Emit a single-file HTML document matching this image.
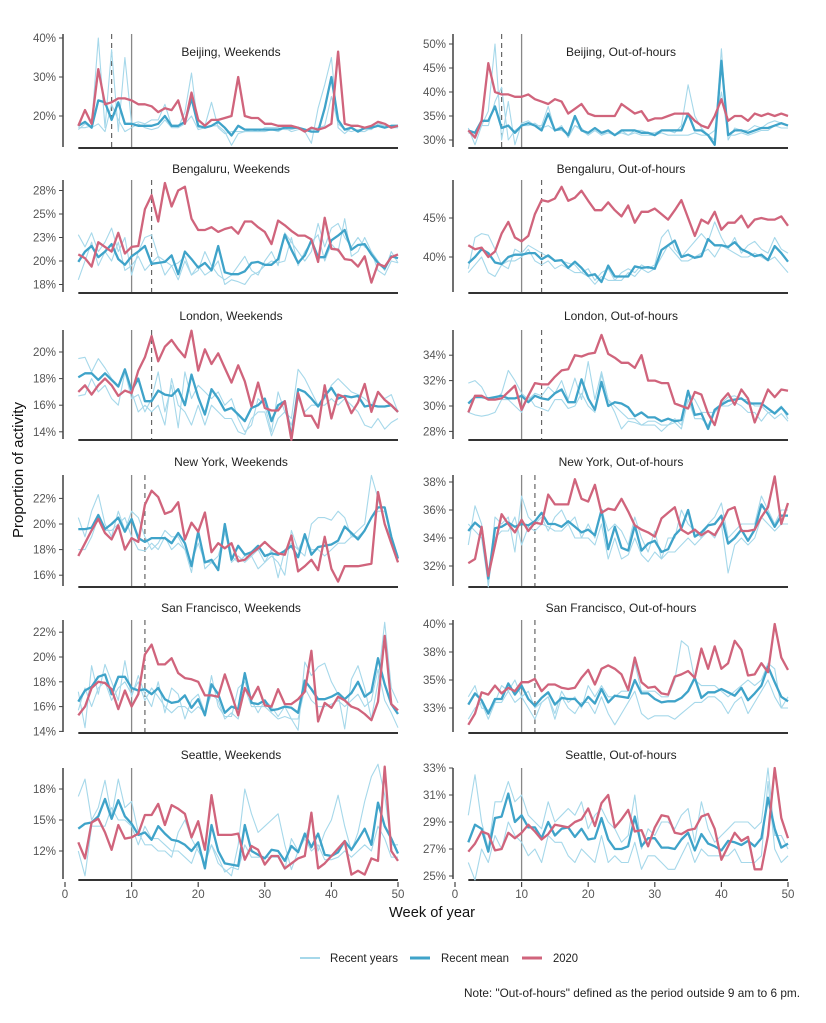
<!DOCTYPE html>
<html><head><meta charset="utf-8">
<style>
html,body{margin:0;padding:0;background:#fff;}
body{width:826px;height:1018px;overflow:hidden;font-family:"Liberation Sans",sans-serif;}
svg text{font-family:"Liberation Sans",sans-serif;}
</style></head>
<body>
<svg id="chart" width="826" height="1018" viewBox="0 0 826 1018" xmlns="http://www.w3.org/2000/svg">
<text x="23" y="470" transform="rotate(-90 23 470)" text-anchor="middle" font-size="15" fill="#111">Proportion of activity</text>
<text x="432" y="917" text-anchor="middle" font-size="15" fill="#111" textLength="86" lengthAdjust="spacingAndGlyphs">Week of year</text>
<g>
<line x1="300" y1="958" x2="320" y2="958" stroke="#a6d8ea" stroke-width="2"/>
<text x="330" y="962" font-size="12" fill="#222" textLength="68" lengthAdjust="spacingAndGlyphs">Recent years</text>
<line x1="410" y1="958" x2="430" y2="958" stroke="#3fa3c9" stroke-width="3"/>
<text x="441" y="962" font-size="12" fill="#222" textLength="68" lengthAdjust="spacingAndGlyphs">Recent mean</text>
<line x1="522" y1="958" x2="542" y2="958" stroke="#d0647c" stroke-width="3"/>
<text x="553" y="962" font-size="12" fill="#222" textLength="25" lengthAdjust="spacingAndGlyphs">2020</text>
</g>
<text x="800" y="997" text-anchor="end" font-size="12" fill="#222" textLength="336" lengthAdjust="spacingAndGlyphs">Note: "Out-of-hours" defined as the period outside 9 am to 6 pm.</text>
</svg>
<script>
// ---- data (weeks 2..50) ----
const panelTitles=["Beijing, Weekends","Beijing, Out-of-hours","Bengaluru, Weekends","Bengaluru, Out-of-hours","London, Weekends","London, Out-of-hours","New York, Weekends","New York, Out-of-hours","San Francisco, Weekends","San Francisco, Out-of-hours","Seattle, Weekends","Seattle, Out-of-hours"];
const xTicks=[0,10,20,30,40,50];
const lockdownWeek=[10,10,10,10,10,10,10,10,10,10,10,10];
const policyWeek=[7,7,13,13,13,13,12,12,12,12,null,null];
const yTicks=[[20,30,40],[30,35,40,45,50],[17.5,20,22.5,25,27.5],[40,45],[14,16,18,20],[28,30,32,34],[16,18,20,22],[32,34,36,38],[14,16,18,20,22],[32.5,35,37.5,40],[12.5,15,17.5],[25,27,29,31,33]];
const yTickLabels=[["20%","30%","40%"],["30%","35%","40%","45%","50%"],["18%","20%","23%","25%","28%"],["40%","45%"],["14%","16%","18%","20%"],["28%","30%","32%","34%"],["16%","18%","20%","22%"],["32%","34%","36%","38%"],["14%","16%","18%","20%","22%"],["33%","35%","38%","40%"],["12%","15%","18%"],["25%","27%","29%","31%","33%"]];

const s2020=[
[17.5,21.5,18,32,23,23.5,24.5, 24.5,24,23,23,22.5,21,22, 21.5,24,18,26,19,17.5,19, 19,19.5,20,30,20,19.5,19.5, 18,18,17.5,17.5,17.5,17,16, 17,16.5,17,18,36.5,18,17.5, 17.5,17,17.5,18.5,18,17,17.5],
[32,30.5,34,46,40,39.5,39.5, 39,39,39.5,38.5,38,37.5,38.5, 38,35.5,36.5,37.5,35.5,35,35, 35,35,37.5,36.5,35.5,36,34, 34.5,34.5,35,35.5,35.5,35.5,34, 33,32.5,35,38.5,34,35,35, 34,35.5,35,35.5,35,35.5,35],
[20.7,20.3,19.4,22,21.5,21,23, 20.8,21.5,21.6,25.5,27,24.2,28.3, 25.8,27.5,27.9,24.5,23.3,23.3,23.6, 23.1,23.4,23.6,22.9,24.2,24.2,23.6, 23.1,21.8,24.3,23.8,23.2,22.7,22.7, 22.3,19.9,24.6,21.3,21.2,20.2,20.1, 19.4,20.5,17.7,19.7,19.4,20.4,20.7],
[41.5,41,41.2,40,40.7,43,44.5, 42.5,42,42.7,45.5,47.3,47.1,47.5, 49,47.2,47.6,48.5,47.2,46,46, 47,46,45.2,46.6,44.4,45.8,45.8, 46.2,45.5,44.8,46,47.3,45,42.7, 44.8,44.3,45.8,43.5,44.4,44.4,45.3, 43.8,44.8,45,44.8,44.8,45.2,44],
[17,17.5,16.8,17.5,18,17.5,16.7, 17.1,16.9,18.6,19.6,21.2,19.3,20.4, 20.9,20.2,19.6,21.6,18.6,20.2,19.1, 19.9,18.8,17.7,19,17.8,15.9,17.7, 15.8,15.6,15.6,16.3,13.4,16.9,15.2, 15.2,14.3,17.5,15,16.8,16.6,15.4, 16.2,17.6,15.5,17,16.4,16,15.5],
[29.5,30.8,30.8,30.5,30.5,30.6,31.1, 31.6,29.7,30.8,31.8,31.7,31.7,32.3, 32.8,32.9,34,33.9,34.1,34.2,35.6, 34.1,33.8,33.4,33.4,33,34,32, 32,31.8,31.8,30.2,30,29.8,31.1, 30.9,29.4,28.5,30.4,31,30.1,31.3, 30.6,28.7,30,31.3,30.7,31.3,31.2],
[17.5,18.5,19.5,20.4,19.3,18.8,19.9, 18,18.9,18.6,21.5,22.6,22.1,20.8, 21,21.7,18.8,20.1,19.4,20.9,17.8, 18.5,18.1,18.5,17.1,17.2,17.7,18.1, 18.6,18.1,17.7,17.6,19.1,16.3,16.7, 17.2,16.4,19,16.5,15.5,16.7,16.7, 16.7,16.8,16.9,22.5,20,18.5,17],
[32.2,32.5,34.8,31.3,33.5,35.7,35, 34.4,35.3,34.5,35.1,35,37.1,36.4, 36.4,36.4,38.2,36.8,36.6,37.8,35.8, 36.1,36,36.8,35.9,34.9,34.6,34.4, 34.1,35.4,35.8,36.2,34.6,34.3,34.6, 34.2,34.5,34.2,35,36,36.2,34.5, 34.5,34.6,35.5,36.2,38.4,35,36.5],
[15.3,16,17.5,18,17.9,17.4,15.8, 17.3,16,17,20.2,21,19.4,19.4, 19.9,18.7,18.3,18.2,18,16.9,16.9, 16.8,18.6,17,15.3,17.5,16.6,17.6, 16.1,16,17.4,16.2,16.2,16.6,17.2, 20.5,14.8,16.3,15.9,16.8,16.5,16, 15.8,15.4,14.9,16.4,21.7,16.2,15.7],
[31,32,33.9,33.7,34.5,33.8,34.3, 34,34.8,34.8,35.1,34,34.6,34.6, 34.3,34.2,34.3,35.2,35.9,34.6,36, 36.3,36,35.5,34.1,37,34.8,34.3, 34.4,33.8,33.7,35.3,35.5,35.8,35.2, 37.8,36,38,36,36.5,38.5,37.7, 35.4,35.5,36.5,35.7,40,37,35.9],
[13.2,11.9,14.8,15.1,14,12.6,14.6, 13.5,13.6,13.9,15.4,15.4,16.3,14.6, 16.2,15.9,15.5,13.6,14.9,12.6,17, 13.8,13.8,13.8,13.9,11.8,12.9,12.6, 11.4,12.1,12.1,11.1,11.5,11.9,12.1, 15.6,11.1,11.5,12.1,12.7,13.3,10.6, 10.9,10.6,11.9,11.7,19.3,12.5,11.7],
[26.8,27.4,28.3,28.1,26.9,27,28.2, 27.8,28.2,28.8,28.3,27.7,28.1,28.8, 28.7,28.6,29,29.2,30,28.7,30.4, 31,28.6,29.2,29.9,28.3,28.4,27.2, 28.6,29.5,29.4,28.2,28.1,28.4,28.5, 29.4,29.6,28.5,26.2,27.2,28.2,27.6, 27.9,25.5,25.5,28,33,29.3,27.8]
];
const sMean=[
[17.5,18.5,17,24,23.5,19,23.5, 18,18,17.5,17.5,17.5,18,20, 17.5,17.5,18.5,24.5,17.5,17,17.5, 18.5,17,15,17.5,16.5,16.5,16.5, 16.5,16.5,16.5,17,17,17,16.5, 16,16,22,30,19,16.5,17, 16,17,17,17.5,17,17.5,17.5],
[32,31.5,34,34,37,32.5,33, 31.5,33,33.5,33,32,35.5,32, 32.5,31,35,32,31.5,32.5,31.5, 32,31,32,32,32,31.5,31.5, 31,32,32,32,32,35.5,32, 32,31,29,46.5,31,32,32, 31.5,32,32.5,32.5,33,33.5,33],
[19.9,21,21.6,20.4,21,21.8,20.2, 19.6,20.5,21,21.6,19.7,19.8,19.9, 20.6,18.6,21,20.2,19.3,19.8,19, 21.6,18.8,18.6,18.6,18.9,19.8,19.9, 19.6,19.6,20.2,22.8,21.2,19.8,20.6, 22.2,20.4,20.4,22.2,22.7,23.3,21.2, 21.7,21.8,20.7,19.8,19.2,20.5,20.3],
[39.2,40,41,40.5,39.3,39.1,40, 40.3,40.3,40.5,40.5,39.7,40.2,39.5, 39.6,38.6,39.4,38.6,37.6,37.8,36.8, 38.9,37.5,37.5,37.5,38.8,38.6,38.7, 38.5,40.9,41.5,42.1,40,40.3,39.9, 40.1,42.3,41.5,41.5,41.3,41.9,41, 40.6,40.1,40.3,39.6,41.4,40.5,39.4],
[18.1,18.4,18.4,17.9,18.4,17.9,17.4, 18.7,17.1,18,16.3,16.3,17.1,16.8, 16.7,17.2,16,18.3,16.6,15.3,17.2, 16.5,15.6,15.8,15.3,14.8,15.8,16, 16.5,14.8,16,16.3,13.6,17.2,17, 16.5,15.9,16.7,17.3,16.5,16.7,16.6, 16.7,15.9,16,15.9,15.9,16,15.5],
[30.2,30.7,30.7,30.6,30.7,30.8,30.6, 30.6,30.8,30.3,30.8,30.6,30.5,31, 31.3,30.3,30.3,32.1,30.6,29.7,31.9, 30,30.3,30.2,29.9,29.2,29.5,29.1, 29.1,28.8,29,28.8,28.9,31.2,29.3, 29.4,28.2,29.7,30.1,30.4,30.5,30.6, 30.2,30.2,30.2,29.8,29.4,29.9,29.3],
[19.6,19.6,19.7,20.7,19.6,20,20.5, 19.4,20.4,18.9,18.6,18.9,18.9,18.9, 18.5,19.3,18.5,16.7,19.4,17,17.2, 16.4,20,17.2,18.3,17.6,17.8,18.3, 17.5,17.7,17.6,17.9,18.3,17.4,19.2, 17.6,18.2,18.3,18.4,18.7,19.8,19.3, 18.8,19.5,20.5,21.3,21.3,19,17.3],
[34.5,35.1,34.7,31.1,34.7,34.8,35.1, 34.8,35,34.9,35.2,35.8,35,35, 34.8,35.2,34.8,34.4,34.6,34.2,36, 33.2,34.8,33.3,33.1,34.9,33.1,33.6, 33.8,33,33.2,34.2,34.7,36,34.1, 34.4,34.9,35,35.6,33.6,34,34.6, 33.8,34.6,36.4,35.7,34.8,35.6,35.6],
[16.4,17.3,17.6,18.4,18.6,17,18.4, 18.4,17.5,17.3,17.4,17,17.5,16.6, 16.3,16.4,16.9,15.9,16.6,15.3,17.8, 17,15.5,16,15.8,18.7,16.3,16.2, 16.5,15.7,15.8,16,15.9,15.5,18.1, 17.4,16.6,16.6,16.8,17.1,16.6,17.1, 18,16.8,17.2,19.9,17.8,16.2,15.4],
[32.8,33.8,33.2,32,33.3,33.3,34.7, 33.7,34.5,33.3,32.7,33.4,33.9,32.8, 33.4,33.3,33.3,32.7,33.5,32.9,34.2, 33,33.6,33.5,33.4,35,33.8,33.8, 33.3,33,33.1,33.1,33.4,34,35.2, 33.4,33.9,33.9,34.2,33.9,33.6,34.3, 33.2,33.8,34.5,36.2,34.8,33.5,33.1],
[14.3,14.7,14.8,15.3,16.7,15.1,16.6, 15.3,14.7,13.8,14,13.4,14.5,13.9, 13.4,13.3,13,12.5,13.2,11.1,14.6, 12.5,11.5,11.4,11.3,14.6,12.5,12.2, 11.9,12.6,12.5,11.7,12.9,12.4,13.9, 12.8,13.9,12.2,12.1,12.4,13.3,12.6, 13.4,14.3,13,16.4,14.5,13.5,12.3],
[27.5,28.8,28.5,26.8,29.3,29.4,31.1, 29,29.5,28.6,28.6,27.8,29,28, 28.5,28.6,27.9,28.5,27.7,27.8,29.3, 27.7,27,27,27.2,29.4,27.2,27.8, 27.8,27.1,27.1,27,27.7,28.2,26.9, 28.1,27.4,27.2,26.9,27.6,27.5,27.3, 27.6,27.2,27.8,30.8,28.5,27.1,27.4]
];
const sYearA=[
[17,17,17.5,40,17,37,16, 35,18,18.5,18,19,19,23, 17.5,17,21,31,17,17.5,23.5, 17,15.5,16,16,16,16.5,16, 17,17,17,16.5,16.5,17,16, 13,22,28,35,17,15.5,17, 16,16,17,18.5,17,17.5,17],
[32.5,29,33,36,50,30,38, 29,33.5,34,33,33,37,32, 33,30.5,33,32.5,31,32,31, 32,31,32,31,32,32,31.5, 31.5,32,32,31.5,33,41.5,35, 32.5,31,30,49,30,32.5,32, 32,33,32.5,33.5,34,33.5,33],
[22.8,21.5,23,21,22,23.5,21, 22.5,18.5,21,22.5,22.8,20.5,20, 19.5,19.8,20.5,18.5,19,21,19.5, 18.5,18,18.5,19.5,20.5,19,18.5, 20,21,19.5,23,22,21,20, 21,24,21.5,23.5,24,22.5,21.5, 22.5,21.5,21,20,19,21,19.8],
[38.5,42.5,43,42.8,41,39,38.5, 41,40.5,41.5,41,40.5,40,39.5, 39.5,39.2,39,38,38.5,37,38, 38.5,37,38,38.5,38,39,38.5, 39,42.5,43.5,41,40,41,42, 43,42,44.5,42.5,41,42.5,40.5, 41.5,42,41,40.5,42.5,41,40.5],
[19.5,19.6,18.5,19.5,18.8,18,17.5, 18.5,16.5,16.8,15.5,16.5,18.5,15.5, 17.5,14.3,18.5,16.5,17.5,17,16.5, 17,16,16.5,15,14,14.5,16.5, 16,14,17,15.5,15,18.7,18, 17,16,16.5,17.5,18,17.5,17, 16.8,16.5,16,17,16.5,16.8,15.5],
[31.8,32,31.5,30.5,30.5,31,32.8, 32,31,30.5,31,30.8,31.5,31, 32,30.5,32.2,30.5,33.5,30.5,32.7, 30.5,30,29.5,29,29,28.5,28.8, 28.8,28.5,28.5,29,28.5,31,30.5, 29.5,29.5,29.5,30.2,30.7,30.8,30.5, 30.5,30,30,29.5,29.5,30,29],
[20.5,19,21,22.3,20,19,21, 19.5,21,20.5,19,18,18.5,19.5, 19,19,18,16.2,19.5,16.5,17, 16.5,19.5,17,17.5,17,17.5,16.5, 17,17.5,17,16,19.5,18,17.5, 20,20.5,20.5,20.3,21,20.5,19, 19.5,20,23.8,22,20,19,17.5],
[33.5,36.3,35,30.5,35.5,35,35.5, 33,37,35.5,35,35.5,34.5,35.5, 36,35,35.5,34,35,34,36, 34.5,35,34.5,33.5,35.5,34,33, 34.5,32.5,34,34,36,35,34.5, 34,35,35.5,36.5,34,34.5,35, 35,35,37,36,35,36,36],
[17.2,14.3,19.3,17,19.4,18,16.5, 19.7,16.8,18.5,17,16,18,15.5, 17.5,17,15,16.5,17,15.5,18.5, 16,15.2,15.2,17.5,18,16.5,15.5, 16.5,16,15.2,16,15,14.1,19.6, 18.5,19.2,19.5,18,17,14.2,18.2, 19.3,17.5,15,18,22.8,17.5,16.3],
[33.5,34.5,32.5,32.3,33,34.5,34, 35,33.5,34,32.5,33,33.5,32, 34,33,33.5,32.5,34.5,33.5,34.5, 33.5,33.5,34,34,36.5,34,34, 34,33.5,33.5,35,38.5,38,35, 34.5,34.5,34.5,34,33.5,34,34.5, 35,34.5,35,36.5,36,32.5,33.5],
[16.9,18.3,15,16,18.2,15.3,18.3, 16,16.5,14,13,13,12.5,12.5, 12,14,15,13.5,12.5,11.5,13, 11.5,11,10.5,13,17.5,15.5,14, 14.5,15,15.5,13,11,12.5,13.5, 15,12.5,14,15,17,14.5,12.5, 14,16.5,18.5,19.5,17,13,13],
[29.5,32.5,29,27,30.5,30.5,32, 30.5,31,29.5,29,28.5,30.5,29, 29.5,30,29.5,30.5,28.5,29.5,30, 29,28.5,27.5,28,31,27,28.5, 28,29,29,28.5,29.5,30,27.5, 30.5,28.5,27.5,28,28.5,29,29, 29,28.5,29,33,28,28,27]
];
const sYearB=[
[16.5,18,17,18,16,23,19, 16,17,18,17,16.5,17,19, 17,17,18,20,16.5,17,17.5, 17.5,16,12.5,15.5,16,16,16, 16,16.5,16,17,16,16.5,16.5, 16.5,17,17.5,25,18,16.5,16, 16.5,16.5,16.5,18,17.5,17,17],
[31.5,31,33,33,38,41,30, 32,33,33,33.5,32.5,33,32, 32,31,33,32,31,32,31, 31.5,31,31.5,31,31.5,31,31, 31,31.5,31,31,31,31,31.5, 31,31,32,40,31,31,31.5, 31,31.5,32,32,33,32.5,32.5],
[18,20,22,19.5,21,20,22, 19,19.5,20.5,19,19.8,20.5,18.5, 19.5,18,20,18.5,19.5,18.5,19, 20,17.5,18,17.8,17.5,18.5,18.8, 19.5,20,19.8,20,22.5,19.5,21, 22,22.8,20,21.8,21,24.5,20.5, 21,22.5,21,19,18.5,20,19.8],
[38,39,40,38,37.5,39,39.5, 39.5,40,41,39.5,39,39.5,38.5, 39,38.5,38,38,37.5,36.5,37.5, 37,37,37,38,37.5,38.5,38, 38.5,40,41.5,40.5,39.5,39.5,40, 40.5,41,40,41.5,41,40.5,40, 40,40.5,40,39.5,40,39,38],
[16.7,16.8,18,17,17.5,16.5,16, 18.5,17,15.5,16,15.5,16,14.5, 18,16,15.5,14.5,16,14.5,16, 15.5,15,15,14,13.8,15,15.5, 15.5,13.7,15,15.5,14.5,16.5,15.5, 16,16,16,16.5,16,16.5,16, 15.5,14.5,14.3,15,14.2,14.7,15],
[29.5,29.3,29.2,29.3,29.5,30.5,30.5, 30,29.5,30.8,30,29.8,29.6,30.5, 30.5,29.8,30,31,30,29.5,32.5, 30.5,29.5,28.2,28.8,28.7,28.5,28.5, 28.5,28,28.5,28.7,28.2,30.5,29, 29,28.5,29.5,30,30,30.3,30, 29.5,29.5,28.8,29.5,29,29.4,28.8],
[18,18,19,20.5,19.5,19.5,20, 20.5,19,18,17.9,18.5,18,19, 18,18.5,18,17,18.5,17,17, 17.5,19.3,17.5,17,17.5,17.5,18, 17,18,15.8,18,18.5,18,19, 18,18,17.5,18,18.5,18.5,19, 19,19.5,20.5,21,21,19,17.5],
[35,34.5,34,30.7,34,34.5,34.5, 35.5,33.5,34.8,34.5,35,34.8,34.5, 34.5,35,34,34,34,33.5,35, 32.5,34,32.5,32.8,34,32.8,32.3, 33,32.5,33,33,33.5,34,33.5, 34,34.5,34,35,31.5,33.5,34, 33.5,34,35.5,35,34.5,35,35],
[15.7,17.5,16,17.5,18,16.5,17.5, 18,17,18,16.5,17.5,16.8,16, 15.5,16,16,15.5,16,15.5,17, 16.5,15,15.5,15,17.5,16,16, 16,15.5,15,15.2,15,15,17.5, 16.5,16,16,16.2,16.5,16,16.5, 17,16,16.5,19,16.5,15.5,14.3],
[31.5,32.5,33,31.5,33,33,34, 33,33.5,32.5,31.5,33,33.5,31.5, 33.5,32.5,32,33,33,32,33.5, 32,31,32,33,34,32,31.5, 31.8,31.8,31.8,31.5,32,32.5,33, 33,33.5,33.5,33,32,33,33.5, 32,33,34,35,33.5,32.5,32.5],
[12.5,10.5,14.5,14.5,14.5,16,15, 15,14.5,13,14.5,13.5,13.5,13, 12.5,12.5,12,11.5,13,11.5,13, 12,10.8,11.2,11,13,12,12, 12,12,12,11,13.5,12.5,13.5, 12.5,13,11.8,11.8,12,12.5,12, 12.5,13,12.5,14.5,13.5,12,12],
[26,24.7,27,26,28,27,29, 28,27.5,26.5,27,26,28,27.5, 27.5,26.5,26,27,26.5,26,28, 26,26.5,26,26,27.5,25.5,26.5, 26.5,26,25.5,25.5,26.5,27.5,26, 27,26.5,26.5,26.5,26.5,27,26, 26,26,26.5,32,27,26,26.5]
];

// ---- layout (pixel geometry, not data) ----
const colX0=[65,455];
const pxPerWeek=6.66;
const rowTitleY=[52,169,316,462,608,755];
const rowTop=[34,180,330,475,620,768];
const rowAxis=[148,293,440,587,733,880];
// y scale anchor per panel: [refValue, refPixel, pxPerUnit]
const yAnchor=[[40,38,3.9],[50,44,4.8],[20,261,9.4],[40,257,7.8],[20,352,13.3],[30,406,12.7],[20,524,12.8],[34,538,14],[20,657,12.4],[40,624,11.2],[15,820,12.4],[33,768,13.5]];

const NS="http://www.w3.org/2000/svg";
const svg=document.getElementById('chart');
function mk(tag,attrs,parent){const e=document.createElementNS(NS,tag);for(const k in attrs)e.setAttribute(k,attrs[k]);(parent||svg).appendChild(e);return e;}

panelTitles.forEach((title,p)=>{
  const row=Math.floor(p/2), col=p%2;
  const x0=colX0[col], top=rowTop[row], axisY=rowAxis[row];
  const xs=w=>x0+w*pxPerWeek;
  const a=yAnchor[p];
  const ys=v=>a[1]+(a[0]-v)*a[2];
  const g=mk('g',{});
  
  
  const t=mk('text',{x:x0+166,y:rowTitleY[row]+4,'text-anchor':'middle','font-size':'12',fill:'#222'},g);
  
  
  t.textContent=title;
  // y axis
  const yl=mk('line',{x1:x0-2,x2:x0-2,y1:top,y2:axisY-1,stroke:'#222','stroke-width':'1.3'},g);
  
  
  yTicks[p].forEach((v,i)=>{
    const y=ys(v);
    const tm=mk('line',{x1:x0-6,x2:x0-2,y1:y,y2:y,stroke:'#444','stroke-width':'1'},g);
    
    
    const tl=mk('text',{x:x0-9,y:y+4,'text-anchor':'end','font-size':'11.5',fill:'#555'},g);
    
    
    tl.textContent=yTickLabels[p][i];
  });
  // x axis
  const xl=mk('line',{x1:xs(2),x2:xs(50),y1:axisY,y2:axisY,stroke:'#333','stroke-width':'2'},g);
  
  
  if(row===5){
    xTicks.forEach(w=>{
      const tm=mk('line',{x1:xs(w),x2:xs(w),y1:axisY+2,y2:axisY+7,stroke:'#444','stroke-width':'1.2'},g);
      
      
      const tl=mk('text',{x:xs(w),y:axisY+18,'text-anchor':'middle','font-size':'11.5',fill:'#555'},g);
      
      
      tl.textContent=String(w);
    });
  }
  // reference lines
  const vl=mk('line',{x1:xs(lockdownWeek[p]),x2:xs(lockdownWeek[p]),y1:top,y2:axisY-1,stroke:'#888','stroke-width':'1.3'},g);
  
  
  if(policyWeek[p]!==null){
    const dl=mk('line',{x1:xs(policyWeek[p]),x2:xs(policyWeek[p]),y1:top,y2:axisY-1,stroke:'#666','stroke-width':'1.2','stroke-dasharray':'5,4'},g);
    
    
  }
  const path=arr=>arr.map((v,i)=>(i?'L':'M')+xs(2+i).toFixed(1)+','+ys(v).toFixed(1)).join('');
  [sYearA[p],sYearB[p]].forEach(arr=>{
    const l=mk('path',{d:path(arr),fill:'none',stroke:'#a6d8ea','stroke-width':'1.1','stroke-linejoin':'round'},g);
    
    
  });
  const m=mk('path',{d:path(sMean[p]),fill:'none',stroke:'#3fa3c9','stroke-width':'2.3','stroke-linejoin':'round'},g);
  
  
  const r=mk('path',{d:path(s2020[p]),fill:'none',stroke:'#d0647c','stroke-width':'2.3','stroke-linejoin':'round'},g);
  
  
});
</script>
</body></html>
